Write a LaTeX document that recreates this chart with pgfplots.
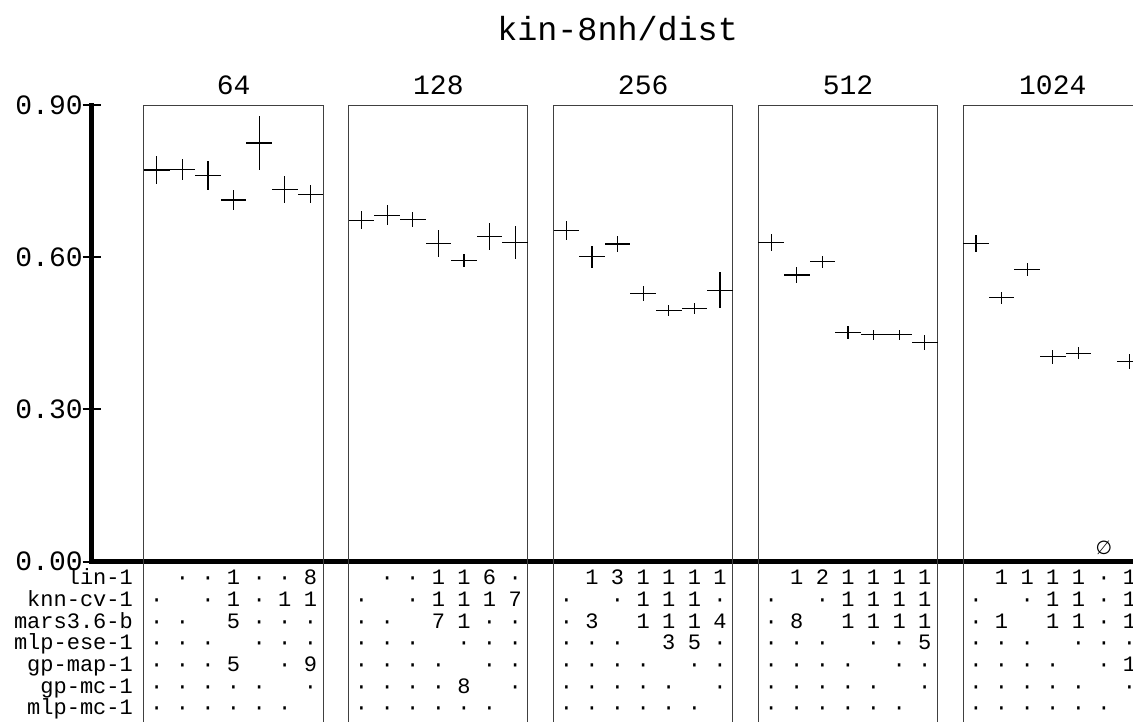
\documentclass[border=0pt]{standalone}
\usepackage{pgfplots}
\pgfplotsset{compat=1.18}
\usepackage{pgfplotstable}
\usepackage{fontspec}
\setmainfont{Liberation Mono}
\newfontfamily\djv{DejaVu Sans}

\pgfplotstableread{
x y ey
0.5 0.772 0.027
1.5 0.773 0.021
2.5 0.761 0.029
3.5 0.713 0.020
4.5 0.825 0.054
5.5 0.733 0.027
6.5 0.724 0.018
8.5 0.673 0.018
9.5 0.683 0.020
10.5 0.675 0.015
11.5 0.627 0.026
12.5 0.594 0.013
13.5 0.641 0.027
14.5 0.629 0.033
16.5 0.652 0.019
17.5 0.601 0.022
18.5 0.626 0.016
19.5 0.528 0.015
20.5 0.495 0.0115
21.5 0.499 0.011
22.5 0.535 0.036
24.5 0.629 0.017
25.5 0.565 0.016
26.5 0.591 0.012
27.5 0.451 0.0125
28.5 0.447 0.010
29.5 0.447 0.010
30.5 0.432 0.015
32.5 0.627 0.016
33.5 0.520 0.012
34.5 0.576 0.0125
35.5 0.404 0.014
36.5 0.411 0.0125
38.5 0.394 0.015
}\crosses

\pgfplotstableread{
g r c0 c1 c2 c3 c4 c5 c6
0 0 {} · · 1 · · 8
0 1 · {} · 1 · 1 1
0 2 · · {} 5 · · ·
0 3 · · · {} · · ·
0 4 · · · 5 {} · 9
0 5 · · · · · {} ·
0 6 · · · · · · {}
1 0 {} · · 1 1 6 ·
1 1 · {} · 1 1 1 7
1 2 · · {} 7 1 · ·
1 3 · · · {} · · ·
1 4 · · · · {} · ·
1 5 · · · · 8 {} ·
1 6 · · · · · · {}
2 0 {} 1 3 1 1 1 1
2 1 · {} · 1 1 1 ·
2 2 · 3 {} 1 1 1 4
2 3 · · · {} 3 5 ·
2 4 · · · · {} · ·
2 5 · · · · · {} ·
2 6 · · · · · · {}
3 0 {} 1 2 1 1 1 1
3 1 · {} · 1 1 1 1
3 2 · 8 {} 1 1 1 1
3 3 · · · {} · · 5
3 4 · · · · {} · ·
3 5 · · · · · {} ·
3 6 · · · · · · {}
4 0 {} 1 1 1 1 · 1
4 1 · {} · 1 1 · 1
4 2 · 1 {} 1 1 · 1
4 3 · · · {} · · ·
4 4 · · · · {} · 1
4 5 · · · · · {} ·
4 6 · · · · · · {}
}\sig

\begin{document}
\begin{tikzpicture}
\begin{axis}[
  x=12.8pt, y=253.7pt,
  xmin=-2.043, xmax=38.633, ymin=0, ymax=0.9,
  axis x line=bottom, axis y line=left,
  axis line style={-, line width=2.3pt, line cap=rect},
  xtick=\empty,
  ytick={0,0.3,0.6,0.9},
  tick align=center,
  major tick length=9pt,
  major tick style={line width=1pt, black},
  yticklabel style={xshift=3.5pt, /pgf/number format/.cd, fixed, fixed zerofill, precision=2, assume math mode=true},
  ticklabel style={font=\fontsize{14}{14}\selectfont},
  clip=false,
]
% boxes
\draw[line width=0.5pt, black!75] (axis cs:0,-0.33) -- (axis cs:0,0.9) -- (axis cs:7,0.9) -- (axis cs:7,-0.33);
\draw[line width=0.5pt, black!75] (axis cs:8,-0.33) -- (axis cs:8,0.9) -- (axis cs:15,0.9) -- (axis cs:15,-0.33);
\draw[line width=0.5pt, black!75] (axis cs:16,-0.33) -- (axis cs:16,0.9) -- (axis cs:23,0.9) -- (axis cs:23,-0.33);
\draw[line width=0.5pt, black!75] (axis cs:24,-0.33) -- (axis cs:24,0.9) -- (axis cs:31,0.9) -- (axis cs:31,-0.33);
\draw[line width=0.5pt, black!75] (axis cs:32,-0.33) -- (axis cs:32,0.9) -- (axis cs:39,0.9) -- (axis cs:39,-0.33);

\addplot[draw=none, mark=none,
  error bars/.cd, x dir=both, x fixed=0.5, y dir=both, y explicit,
  error mark=none, error bar style={draw=black, solid, line width=0.6pt}]
  table[x=x, y=y, y error=ey]{\crosses};

\pgfplotsinvokeforeach{0,...,6}{
\addplot[draw=none, mark=none, point meta=explicit symbolic,
  nodes near coords, nodes near coords align={anchor=base},
  every node near coord/.append style={font=\fontsize{11}{11}\selectfont, inner sep=0pt, black, anchor=base}]
  table[x expr={\thisrow{g}*8+#1+0.5}, y expr={-(23.3+21.67*\thisrow{r})/507.4}, meta=c#1]{\sig};
}

\node[anchor=base east, inner sep=0pt, font=\fontsize{11}{11}\selectfont] at (axis cs:-0.42,-0.04592) {lin-1};
\node[anchor=base east, inner sep=0pt, font=\fontsize{11}{11}\selectfont] at (axis cs:-0.42,-0.08863) {knn-cv-1};
\node[anchor=base east, inner sep=0pt, font=\fontsize{11}{11}\selectfont] at (axis cs:-0.42,-0.13134) {mars3.6-b};
\node[anchor=base east, inner sep=0pt, font=\fontsize{11}{11}\selectfont] at (axis cs:-0.42,-0.17405) {mlp-ese-1};
\node[anchor=base east, inner sep=0pt, font=\fontsize{11}{11}\selectfont] at (axis cs:-0.42,-0.21676) {gp-map-1};
\node[anchor=base east, inner sep=0pt, font=\fontsize{11}{11}\selectfont] at (axis cs:-0.42,-0.25947) {gp-mc-1};
\node[anchor=base east, inner sep=0pt, font=\fontsize{11}{11}\selectfont] at (axis cs:-0.42,-0.30218) {mlp-mc-1};

\node[font=\fontsize{14}{14}\selectfont] at (axis cs:3.5,0.9395) {64};
\node[font=\fontsize{14}{14}\selectfont] at (axis cs:11.5,0.9395) {128};
\node[font=\fontsize{14}{14}\selectfont] at (axis cs:19.5,0.9395) {256};
\node[font=\fontsize{14}{14}\selectfont] at (axis cs:27.5,0.9395) {512};
\node[font=\fontsize{14}{14}\selectfont] at (axis cs:35.5,0.9395) {1024};

\node[anchor=base, font=\fontsize{16.7}{16.7}\selectfont] at (axis cs:18.5,1.028) {kin-8nh/dist};

\node[font=\djv\fontsize{9.5}{9.5}\selectfont] at (axis cs:37.5,0.027) {∅};

\coordinate (BL) at (axis cs:-5.625,-0.3159);
\coordinate (TR) at (axis cs:38.633,1.1070);
\end{axis}
\pgfresetboundingbox
\useasboundingbox (BL) rectangle (TR);
\end{tikzpicture}
\end{document}
